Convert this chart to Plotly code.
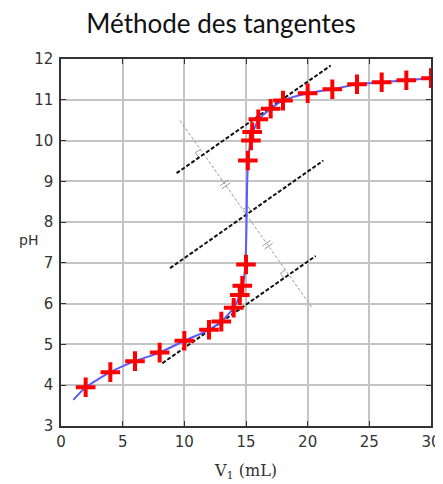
import numpy as np
import plotly.graph_objects as go

# Measured points (V1 in mL, pH)
v_pts = [2, 4, 6, 8, 10, 12, 13, 14, 14.5, 14.7, 15, 15.15, 15.4, 15.5, 16, 17, 18, 20, 22, 24, 26, 28, 30]
ph_pts = [3.95, 4.32, 4.59, 4.80, 5.09, 5.36, 5.56, 5.90, 6.21, 6.44, 6.96, 9.51, 10.0, 10.21, 10.52, 10.78, 10.98, 11.16, 11.26, 11.38, 11.43, 11.48, 11.53]

# Smooth titration curve
v_curve = [1.0, 2, 4, 6, 8, 10, 12, 13, 14, 14.5, 14.8, 14.95, 15.02, 15.06, 15.1, 15.2, 15.45, 16, 17, 18, 20, 22, 24, 26, 28, 30]
ph_curve = [3.64, 3.95, 4.32, 4.59, 4.80, 5.09, 5.36, 5.56, 5.90, 6.21, 6.55, 6.96, 7.6, 8.3, 9.0, 9.6, 10.1, 10.5, 10.78, 10.98, 11.16, 11.26, 11.38, 11.43, 11.48, 11.53]

# Tangent lines (end points)
tan_up_x = [9.37, 21.87]
tan_up_y = [9.20, 11.84]
tan_mid_x = [8.84, 21.27]
tan_mid_y = [6.87, 9.51]
tan_low_x = [8.22, 20.65]
tan_low_y = [4.54, 7.17]
# Perpendicular construction line
perp_x = [9.65, 20.38]
perp_y = [10.49, 5.89]

X_RANGE = [0, 30]
Y_RANGE = [3, 12]
# page body has an 8px margin; figure sized to fit the window
W, H = 435, 476
L, R, T, B = 53, 12, 51, 58
sx = (W - L - R) / (X_RANGE[1] - X_RANGE[0])
sy = (H - T - B) / (Y_RANGE[1] - Y_RANGE[0])

fig = go.Figure()

def add_line(x, y, color, width, dash=None):
    fig.add_trace(go.Scatter(x=list(x), y=list(y), mode="lines",
                             line=dict(color=color, width=width, dash=dash),
                             hoverinfo="skip", showlegend=False))

# perpendicular
add_line(perp_x, perp_y, "#9a9a9a", 1, "3px,2px")

def intersect(ax, ay, bx, by):
    p = np.array([ax[0], ay[0]]); r = np.array([ax[1]-ax[0], ay[1]-ay[0]])
    q = np.array([bx[0], by[0]]); s = np.array([bx[1]-bx[0], by[1]-by[0]])
    t = np.cross(q - p, s) / np.cross(r, s)
    return p + t * r

def unit_px(x, y):
    d = np.array([(x[1]-x[0]) * sx, (y[1]-y[0]) * sy])
    return d / np.linalg.norm(d)

def px_to_data(vec):
    return np.array([vec[0] / sx, vec[1] / sy])

u = unit_px(tan_up_x, tan_up_y)          # along tangent (to the right/up)
v = unit_px(perp_x, perp_y)
v_up = -v                                 # perpendicular pointing up-left

pts = []
for (tx, ty, su) in [(tan_up_x, tan_up_y, -1), (tan_mid_x, tan_mid_y, 1), (tan_low_x, tan_low_y, -1)]:
    P = intersect(tx, ty, perp_x, perp_y)
    pts.append(P)
    s = 6
    a = P + px_to_data(su * s * u)
    b = a + px_to_data(s * v_up)
    c = P + px_to_data(s * v_up)
    add_line([a[0], b[0], c[0]], [a[1], b[1], c[1]], "#9a9a9a", 1)

# equal-length marks
for i in range(2):
    M = (pts[i] + pts[i + 1]) / 2
    for off in (-1.8, 1.8):
        c = M + px_to_data(off * v)
        a = c + px_to_data(-5 * u)
        b = c + px_to_data(5 * u)
        add_line([a[0], b[0]], [a[1], b[1]], "#9a9a9a", 1)

# tangents
for tx, ty in [(tan_up_x, tan_up_y), (tan_mid_x, tan_mid_y), (tan_low_x, tan_low_y)]:
    add_line(tx, ty, "#111111", 2, "4px,2px")

# curve
fig.add_trace(go.Scatter(x=v_curve, y=ph_curve, mode="lines",
                         line=dict(color="#5a5aff", width=2, shape="spline", smoothing=0.6),
                         hoverinfo="skip", showlegend=False))
# points
fig.add_trace(go.Scatter(x=v_pts, y=ph_pts, mode="markers",
                         marker=dict(symbol="cross-thin", size=14, line=dict(color="#ff0000", width=4)),
                         hoverinfo="skip", showlegend=False))

axis_common = dict(showgrid=True, gridcolor="#c4c4c4", gridwidth=1.5,
                   showline=True, linecolor="#333333", linewidth=1.5, mirror="ticks",
                   ticks="inside", ticklen=5, tickcolor="#333333",
                   tickfont=dict(family="DejaVu Sans", size=15, color="#333333"),
                   zeroline=False, fixedrange=True, automargin=False)

fig.update_layout(
    template="none",
    width=W, height=H,
    margin=dict(l=L, r=R, t=T, b=B),
    paper_bgcolor="white", plot_bgcolor="white",
    title=dict(text="Méthode des tangentes", x=213 / W, xanchor="center", y=1 - 16 / H, yanchor="middle",
               font=dict(family="Lato", size=26, color="#111111"), automargin=False),
    xaxis=dict(range=X_RANGE, tickvals=[0, 5, 10, 15, 20, 25, 30], **axis_common,
               ticklabelstandoff=1,
               title=dict(text="V<sub>1</sub> (mL)", standoff=15,
                          font=dict(family="DejaVu Serif", size=16, color="#333333"))),
    yaxis=dict(range=Y_RANGE, tickvals=list(range(3, 13)), ticklabelstandoff=3, **axis_common),
    annotations=[dict(text="pH", xref="paper", yref="paper", x=(9 - L) / (W - L - R), y=(418 - 232) / (H - T - B),
                      showarrow=False, font=dict(family="DejaVu Sans", size=14, color="#333333"))],
)

fig.write_html("out.html")
